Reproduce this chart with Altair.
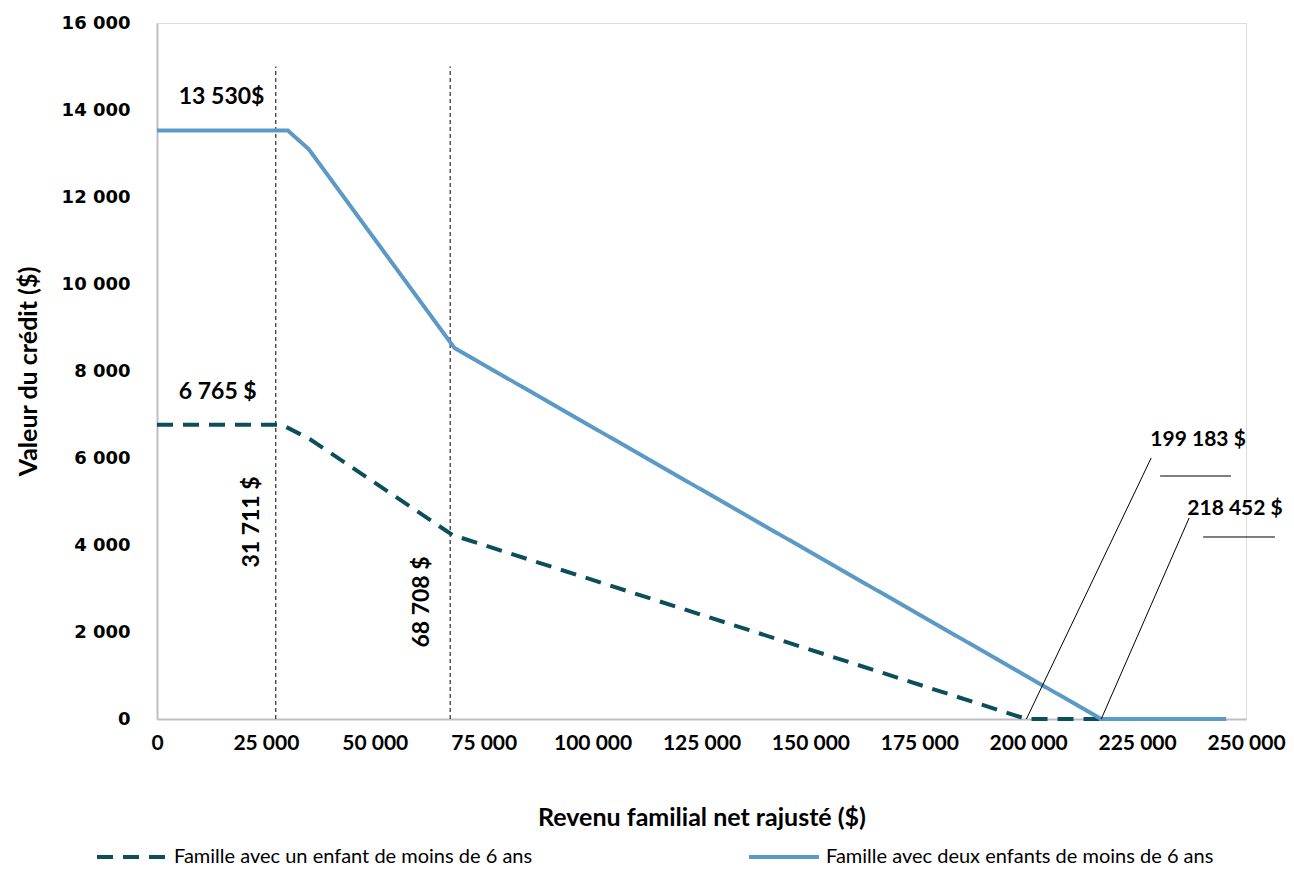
import altair as alt
import pandas as pd

# --- data ---
series_names = ["Famille avec un enfant de moins de 6 ans",
                "Famille avec deux enfants de moins de 6 ans"]
one_child_income = [0, 28640, 35060, 67830, 199590, 245420]
one_child_credit = [6765, 6765, 6437, 4230, 0, 0]
two_children_income = [0, 30020, 34830, 68290, 216770, 245420]
two_children_credit = [13530, 13530, 13100, 8529, 0, 0]

threshold_income = [27270, 67300]
threshold_top = [15000, 15000]

label_texts = ["13 530$", "6 765 $"]
label_income = [5000, 5000]
label_credit = [14300, 7517]

vlabel_texts = ["31 711 $", "68 708 $"]
vlabel_income = [21770, 60950]
vlabel_credit = [4529, 2690]

end_texts = ["199 183 $", "218 452 $"]
end_income = [239000, 247480]
end_credit = [6414, 4828]
underline_start = [230290, 240150]
underline_end = [246560, 256640]
underline_credit = [5586, 4184]
leader_start_income = [228230, 236940]
leader_start_credit = [6000, 4621]
leader_end_income = [199590, 216770]

TEAL = "#0C4E5C"
BLUE = "#5B9AC6"
FONT = "Lato"

rows = []
for x, y in zip(one_child_income, one_child_credit):
    rows.append({"serie": series_names[0], "revenu": x, "credit": y, "o": 0})
for x, y in zip(two_children_income, two_children_credit):
    rows.append({"serie": series_names[1], "revenu": x, "credit": y, "o": 1})
df = pd.DataFrame(rows)

xscale = alt.Scale(domain=[0, 250000], nice=False)
yscale = alt.Scale(domain=[0, 16000], nice=False)

leg = alt.Legend(title=None, orient="none", direction="horizontal",
                 legendX=-62, legendY=797, symbolSize=4900, symbolStrokeWidth=4,
                 labelFont=FONT, labelFontSize=20, labelColor="#000000",
                 labelLimit=700, columnPadding=208, labelOffset=5)

lines = alt.Chart(df).mark_line(strokeWidth=4).encode(
    x=alt.X("revenu:Q", scale=xscale,
            axis=alt.Axis(title="Revenu familial net rajusté ($)",
                          values=list(range(0, 250001, 25000)),
                          labelExpr="replace(format(datum.value, ','), ',', ' ')",
                          labelOverlap=False, labelFlush=False,
                          grid=False, ticks=False, domainColor="#BFBFBF", domainWidth=2,
                          labelFont=FONT, labelFontSize=21, labelFontWeight="bold",
                          labelColor="#000000", labelPadding=13,
                          titleFont=FONT, titleFontSize=25, titleFontWeight="bold",
                          titleColor="#000000", titlePadding=52)),
    y=alt.Y("credit:Q", scale=yscale,
            axis=alt.Axis(title="Valeur du crédit ($)",
                          values=list(range(0, 16001, 2000)),
                          labelExpr="replace(format(datum.value, ','), ',', ' ')",
                          labelOverlap=False, labelFlush=False,
                          grid=False, ticks=False, domainColor="#BFBFBF", domainWidth=2,
                          labelFont="DejaVu Sans", labelFontSize=18, labelFontWeight="bold",
                          labelColor="#000000", labelPadding=27,
                          titleFont=FONT, titleFontSize=25, titleFontWeight="bold",
                          titleColor="#000000", titlePadding=20)),
    color=alt.Color("serie:N", scale=alt.Scale(domain=series_names, range=[TEAL, BLUE]), legend=leg),
    strokeDash=alt.StrokeDash("serie:N", scale=alt.Scale(domain=series_names, range=[[16, 10], [1, 0]]), legend=leg),
    order="o:Q",
    detail="serie:N",
)

rules_df = pd.DataFrame({"x": threshold_income, "y": [0, 0], "y2": threshold_top})
vrules = alt.Chart(rules_df).mark_rule(color="#000000", strokeWidth=1, strokeDash=[4, 3]).encode(
    x=alt.X("x:Q", scale=xscale), y=alt.Y("y:Q", scale=yscale), y2="y2:Q")

lab_df = pd.DataFrame({"t": label_texts, "x": label_income, "y": label_credit})
labs = alt.Chart(lab_df).mark_text(font=FONT, fontSize=23, fontWeight="bold", align="left",
                                   baseline="middle", color="#000000").encode(
    x=alt.X("x:Q", scale=xscale), y=alt.Y("y:Q", scale=yscale), text="t:N")

vlab_df = pd.DataFrame({"t": vlabel_texts, "x": vlabel_income, "y": vlabel_credit})
vlabs = alt.Chart(vlab_df).mark_text(font=FONT, fontSize=23, fontWeight="bold", align="center",
                                     baseline="middle", angle=270, color="#000000").encode(
    x=alt.X("x:Q", scale=xscale), y=alt.Y("y:Q", scale=yscale), text="t:N")

end_df = pd.DataFrame({"t": end_texts, "x": end_income, "y": end_credit})
ends = alt.Chart(end_df).mark_text(font=FONT, fontSize=21, fontWeight="bold", align="center",
                                   baseline="middle", color="#000000").encode(
    x=alt.X("x:Q", scale=xscale), y=alt.Y("y:Q", scale=yscale), text="t:N")

ul_df = pd.DataFrame({"x": underline_start, "x2": underline_end, "y": underline_credit})
uls = alt.Chart(ul_df).mark_rule(color="#000000", strokeWidth=1).encode(
    x=alt.X("x:Q", scale=xscale), x2="x2:Q", y=alt.Y("y:Q", scale=yscale))

ld_df = pd.DataFrame({"x": leader_start_income, "y": leader_start_credit,
                      "x2": leader_end_income, "y2": [0, 0]})
leaders = alt.Chart(ld_df).mark_rule(color="#000000", strokeWidth=1).encode(
    x=alt.X("x:Q", scale=xscale), y=alt.Y("y:Q", scale=yscale), x2="x2:Q", y2="y2:Q")

chart = alt.layer(vrules, lines, leaders, uls, labs, vlabs, ends).properties(
    width=1089, height=696,
    padding={"left": 149, "top": 15, "right": 40, "bottom": 151},
    autosize=alt.AutoSizeParams(type="none"),
).configure_view(stroke=None).configure(background="#FFFFFF")

chart.save("out.html", embed_options={"renderer": "svg", "actions": False})
